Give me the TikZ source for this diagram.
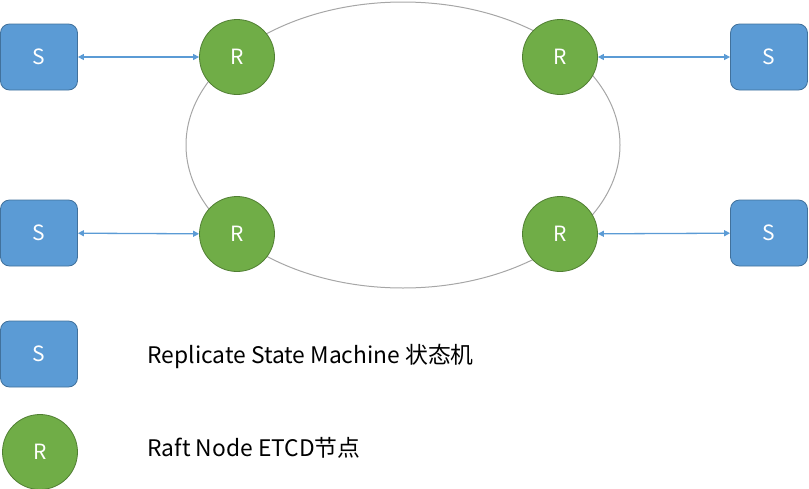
\documentclass[tikz,border=0pt]{standalone}
\usepackage{fontspec}
\setmainfont{Noto Sans CJK SC}
\usetikzlibrary{arrows.meta}
\definecolor{sfill}{HTML}{5B9BD5}
\definecolor{sline}{HTML}{41719C}
\definecolor{rfill}{HTML}{70AD47}
\definecolor{rline}{HTML}{507E32}
\definecolor{ringgray}{HTML}{A6A6A6}
\begin{document}
\begin{tikzpicture}[x=1pt, y=-1pt,
    smachine/.style={draw=sline, fill=sfill, line width=0.8pt, rounded corners=9pt,
        minimum width=77pt, minimum height=66pt, text=white, font=\fontsize{21}{21}\selectfont},
    raftnode/.style={circle, draw=rline, fill=rfill, line width=0.8pt,
        minimum size=75pt, text=white, font=\fontsize{21}{21}\selectfont},
    link/.style={{Triangle[length=6pt,width=6pt]}-{Triangle[length=6pt,width=6pt]}, draw=sfill, line width=1.3pt},
    legend/.style={anchor=west, font=\fontsize{22.8}{22.8}\selectfont}]
    \useasboundingbox (0,0) rectangle (809,488);

    % cluster ring
    \draw [ringgray, line width=1pt] (403,145) ellipse [x radius=217pt, y radius=143pt];

    \node[smachine] (s1) at (39,57) {S};
    \node[smachine] (s2) at (39,233) {S};
    \node[smachine] (s3) at (769,57) {S};
    \node[smachine] (s4) at (769,233) {S};

    \node[raftnode] (r1) at (237,57) {R};
    \node[raftnode] (r2) at (237,234) {R};
    \node[raftnode] (r3) at (560,57) {R};
    \node[raftnode] (r4) at (560,234) {R};

    \draw [link] (s1) -- (r1);
    \draw [link] (s2) -- (r2);
    \draw [link] (r3) -- (s3);
    \draw [link] (r4) -- (s4);

    % legend
    \node[smachine] (ls) at (39,354) {S};
    \node[raftnode] (lr) at (40,452) {R};
    \node[legend] (lstext) at (144,356) {Replicate State Machine 状态机};
    \node[legend] (lrtext) at (144,448) {Raft Node ETCD节点};

\end{tikzpicture}
\end{document}
